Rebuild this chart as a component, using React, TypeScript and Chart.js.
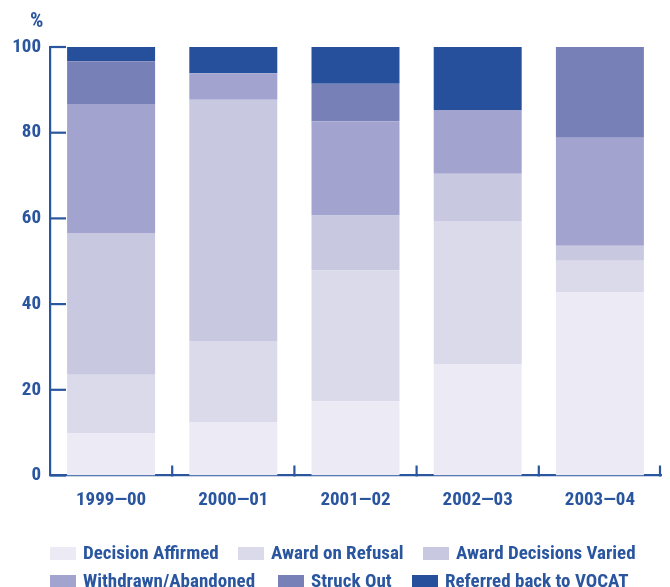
import React, { useEffect, useRef } from "react";
import { Chart, registerables } from "chart.js";

Chart.register(...registerables);

const categories = ["1999—00", "2000—01", "2001—02", "2002—03", "2003—04"];
const decisionAffirmed = [9.9, 12.5, 17.3, 26.0, 42.8];
const awardOnRefusal = [13.6, 18.9, 30.6, 33.4, 7.3];
const awardDecisionsVaried = [33.1, 56.3, 12.8, 11.0, 3.5];
const withdrawnAbandoned = [30.1, 6.2, 22.0, 14.9, 25.2];
const struckOut = [10.0, 0, 8.7, 0, 21.2];
const referredBack = [3.3, 6.1, 8.6, 14.7, 0];
const yTicks = [0, 20, 40, 60, 80, 100];

const seriesNames = [
  "Decision Affirmed",
  "Award on Refusal",
  "Award Decisions Varied",
  "Withdrawn/Abandoned",
  "Struck Out",
  "Referred back to VOCAT",
];
const seriesColors = ["#ecebf5", "#dadaeb", "#c8c8e0", "#a2a3cf", "#7880b8", "#26509c"];
const seriesData = [
  decisionAffirmed,
  awardOnRefusal,
  awardDecisionsVaried,
  withdrawnAbandoned,
  struckOut,
  referredBack,
];

const TEXT = "#2a559f";
const FONT = '"Liberation Sans Narrow", "Arial Narrow", "Roboto Condensed", "Liberation Sans", sans-serif';

// legend layout: [seriesIndex, left, top]
const legendLayout: [number, number, number][] = [
  [0, 50, 547],
  [1, 238, 547],
  [2, 423, 547],
  [3, 50, 575],
  [4, 278, 575],
  [5, 412, 575],
];

const axisTicksPlugin = {
  id: "axisTicks",
  afterDatasetsDraw(chart: any) {
    const { ctx, chartArea, scales } = chart;
    const y = scales.y;
    ctx.save();
    ctx.strokeStyle = TEXT;
    ctx.lineWidth = 2.2;
    yTicks.forEach((v) => {
      const py = y.getPixelForValue(v);
      ctx.beginPath();
      ctx.moveTo(chartArea.left, py);
      ctx.lineTo(chartArea.left + 16, py);
      ctx.stroke();
    });
    const n = categories.length;
    const w = (chartArea.right - chartArea.left) / n;
    for (let i = 1; i <= n; i++) {
      const px = chartArea.left + i * w - (i === n ? 1 : 0);
      ctx.beginPath();
      ctx.moveTo(px, chartArea.bottom + 1);
      ctx.lineTo(px, chartArea.bottom - 10);
      ctx.stroke();
    }
    ctx.restore();
  },
};

function App() {
  const ref = useRef<HTMLCanvasElement | null>(null);
  useEffect(() => {
    if (!ref.current) return;
    const chart = new Chart(ref.current, {
      type: "bar",
      data: {
        labels: categories,
        datasets: seriesData.map((d, i) => ({
          label: seriesNames[i],
          data: d,
          backgroundColor: seriesColors[i],
          borderWidth: 0,
          barPercentage: 0.72,
          categoryPercentage: 1,
        })),
      },
      options: {
        animation: false,
        responsive: false,
        layout: { padding: { left: 0, top: 47, right: 9, bottom: 71.5 } },
        plugins: { legend: { display: false }, tooltip: { enabled: false } },
        scales: {
          x: {
            stacked: true,
            grid: { display: false, drawTicks: false },
            border: { display: true, color: TEXT, width: 2.2 },
            ticks: {
              color: TEXT,
              padding: 13,
              font: { family: FONT, size: 19, weight: "bold" },
              maxRotation: 0,
            },
            afterFit: (s: any) => {
              s.height = 40;
            },
          },
          y: {
            stacked: true,
            min: 0,
            max: 100,
            grid: { display: false, drawTicks: false },
            border: { display: true, color: TEXT, width: 2.2 },
            ticks: {
              stepSize: 20,
              color: TEXT,
              padding: 9,
              font: { family: FONT, size: 19, weight: "bold" },
            },
            afterFit: (s: any) => {
              s.width = 50;
            },
          },
        },
      },
      plugins: [axisTicksPlugin],
    });
    return () => chart.destroy();
  }, []);

  return (
    <div style={{ position: "absolute", left: 0, top: 0, width: 670, height: 587, background: "#fff", overflow: "hidden" }}>
      <canvas ref={ref} width={670} height={587} style={{ position: "absolute", left: 0, top: 0 }} />
      <div
        style={{
          position: "absolute",
          left: 30,
          top: 9,
          fontFamily: FONT,
          fontWeight: "bold",
          fontSize: 21,
          lineHeight: "22px",
          color: TEXT,
        }}
      >
        %
      </div>
      {legendLayout.map(([si, left, top]) => (
        <div key={si} style={{ position: "absolute", left, top: top - 4, height: 20, display: "flex", alignItems: "flex-start" }}>
          <div style={{ width: 26, height: 13, marginTop: 4, background: seriesColors[si] }} />
          <span
            style={{
              marginLeft: 7,
              fontFamily: FONT,
              fontWeight: "bold",
              fontSize: 19,
              lineHeight: "20px",
              color: TEXT,
              whiteSpace: "nowrap",
            }}
          >
            {seriesNames[si]}
          </span>
        </div>
      ))}
    </div>
  );
}

export default App;
